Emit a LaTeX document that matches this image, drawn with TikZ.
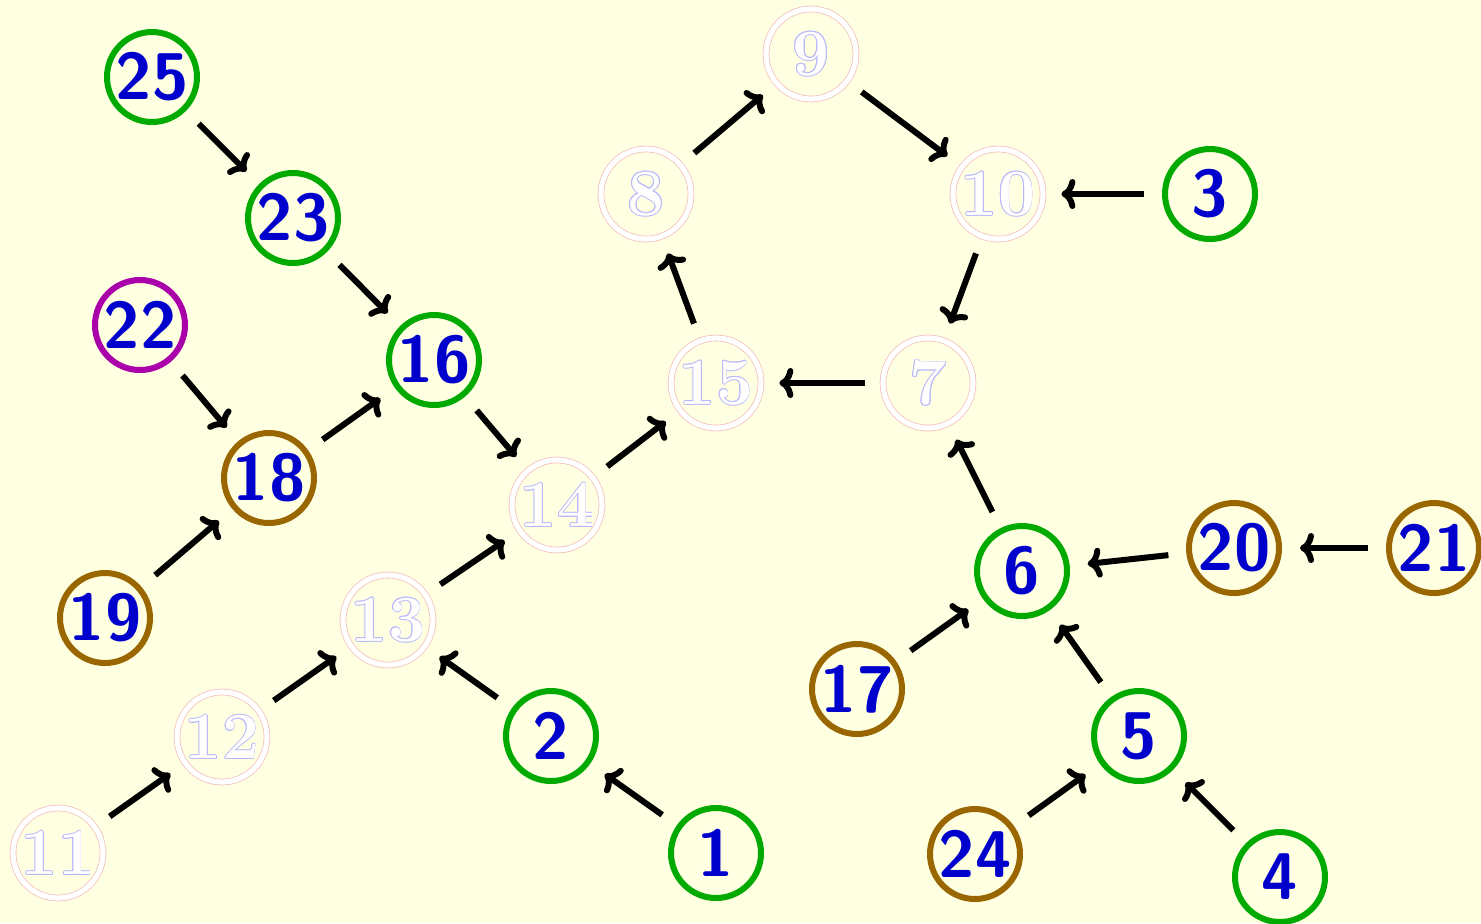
\documentclass[tikz,border=0pt]{standalone}
\usetikzlibrary{arrows.meta}
\definecolor{bgyellow}{RGB}{255,255,226}
\definecolor{ngreen}{RGB}{0,170,0}
\definecolor{nbrown}{RGB}{153,102,0}
\definecolor{nmagenta}{RGB}{170,0,170}
\definecolor{nblue}{RGB}{0,0,204}
\definecolor{ghostedge}{RGB}{242,185,185}
\definecolor{ghosttext}{RGB}{185,185,250}

% white lettering with a thin light-blue rim
\newcommand\rimoff[3]{\rlap{\hspace*{#1}\raisebox{#2}{\color{ghosttext}#3}}}
\newcommand\rimtext[1]{%
  \rimoff{0.45pt}{0pt}{#1}\rimoff{-0.45pt}{0pt}{#1}%
  \rimoff{0pt}{0.45pt}{#1}\rimoff{0pt}{-0.45pt}{#1}%
  \rimoff{0.32pt}{0.32pt}{#1}\rimoff{-0.32pt}{0.32pt}{#1}%
  \rimoff{0.32pt}{-0.32pt}{#1}\rimoff{-0.32pt}{-0.32pt}{#1}%
  {\color{white}#1}}

\tikzset{
  vtx/.style={circle, minimum size=45pt, inner sep=0pt, line width=3pt,
    text=nblue, font=\fontsize{33}{36}\selectfont\sffamily\bfseries},
  gvtx/.style={vtx, draw=ngreen},
  bvtx/.style={vtx, draw=nbrown},
  mvtx/.style={vtx, draw=nmagenta},
  hvtx/.style={circle, minimum size=45pt, inner sep=0pt, draw=ghostedge,
    line width=0.35pt, double=white, double distance=2.6pt,
    font=\fontsize{33}{36}\selectfont\rmfamily\bfseries},
  edge/.style={line width=3pt, -{To[length=7pt,width=15pt]},
    shorten <=9pt, shorten >=9pt},
}

\begin{document}
\begin{tikzpicture}[x=0.5pt,y=-0.5pt]
\fill[bgyellow] (0,0) rectangle (1481,923);
\useasboundingbox (0,0) rectangle (1481,923);

% faded vertices
\node[hvtx] (n8)  at (646,194) {\rimtext{8}};
\node[hvtx] (n9)  at (811,54)  {\rimtext{9}};
\node[hvtx] (n10) at (998,194) {\rimtext{10}};
\node[hvtx] (n7)  at (928,383) {\rimtext{7}};
\node[hvtx] (n15) at (716,383) {\rimtext{15}};
\node[hvtx] (n14) at (557,505) {\rimtext{14}};
\node[hvtx] (n13) at (388,620) {\rimtext{13}};
\node[hvtx] (n12) at (222,737) {\rimtext{12}};
\node[hvtx] (n11) at (58,853)  {\rimtext{11}};

% coloured vertices
\node[gvtx] (n25) at (152,77)  {25};
\node[gvtx] (n23) at (293,218) {23};
\node[mvtx] (n22) at (140,325) {22};
\node[gvtx] (n16) at (434,360) {16};
\node[bvtx] (n18) at (269,478) {18};
\node[bvtx] (n19) at (105,618) {19};
\node[gvtx] (n2)  at (551,736) {2};
\node[gvtx] (n1)  at (716,853) {1};
\node[gvtx] (n3)  at (1210,194) {3};
\node[gvtx] (n6)  at (1022,571) {6};
\node[bvtx] (n20) at (1234,548) {20};
\node[bvtx] (n21) at (1434,548) {21};
\node[bvtx] (n17) at (857,689) {17};
\node[gvtx] (n5)  at (1139,736) {5};
\node[bvtx] (n24) at (975,854) {24};
\node[gvtx] (n4)  at (1280,877) {4};

% connectors
\draw[edge] (n25) -- (n23);
\draw[edge] (n23) -- (n16);
\draw[edge] (n22) -- (n18);
\draw[edge] (n18) -- (n16);
\draw[edge] (n19) -- (n18);
\draw[edge] (n16) -- (n14);
\draw[edge] (n14) -- (n15);
\draw[edge] (n13) -- (n14);
\draw[edge] (n12) -- (n13);
\draw[edge] (n11) -- (n12);
\draw[edge] (n2) -- (n13);
\draw[edge] (n1) -- (n2);
\draw[edge] (n15) -- (n8);
\draw[edge] (n8) -- (n9);
\draw[edge] (n9) -- (n10);
\draw[edge] (n3) -- (n10);
\draw[edge] (n10) -- (n7);
\draw[edge] (n7) -- (n15);
\draw[edge] (n6) -- (n7);
\draw[edge] (n20) -- (n6);
\draw[edge] (n21) -- (n20);
\draw[edge] (n17) -- (n6);
\draw[edge] (n5) -- (n6);
\draw[edge] (n24) -- (n5);
\draw[edge] (n4) -- (n5);
\end{tikzpicture}
\end{document}
